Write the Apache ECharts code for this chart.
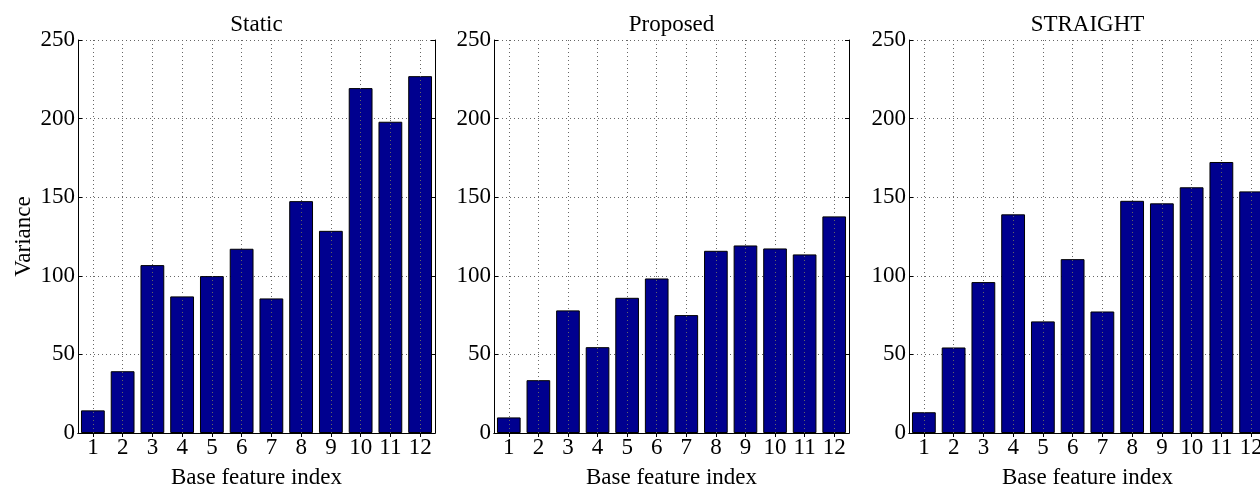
<!DOCTYPE html>
<html>
<head>
<meta charset="utf-8">
<script src="https://cdn.jsdelivr.net/npm/echarts@6/dist/echarts.min.js"></script>
<style>
  html, body { margin: 0; padding: 0; background: #fff; }
  #chart { width: 1260px; height: 486px; }
</style>
</head>
<body>
<div id="chart"></div>
<script>
// Feature indices along the x axis
const categories = ['1', '2', '3', '4', '5', '6', '7', '8', '9', '10', '11', '12'];

// Variance per base feature for each method
const staticValues   = [14.4, 39.3, 106.8, 86.9, 99.8, 117.2, 85.6, 147.5, 128.6, 219.4, 198.0, 227.0];
const proposedValues = [9.9, 33.6, 78.0, 54.6, 86.0, 98.3, 75.0, 115.9, 119.3, 117.4, 113.6, 137.8];
const straightValues = [13.2, 54.4, 96.0, 139.1, 71.0, 110.6, 77.3, 147.7, 146.1, 156.3, 172.4, 153.7];

const panelTitles = ['Static', 'Proposed', 'STRAIGHT'];
const panelValues = [staticValues, proposedValues, straightValues];

// Value axis ticks
const yMin = 0, yMax = 250, yStep = 50;

const FONT = 'Liberation Serif';
const FS = 23;
const panels = [
  { left: 78,  width: 357 },
  { left: 494, width: 355 },
  { left: 909, width: 357 }
];
const TOP = 40, HEIGHT = 393;

const dotted = { color: '#666', width: 1, type: [1, 3] };

const grid = [], xAxis = [], yAxis = [], series = [], title = [];

panels.forEach((p, i) => {
  grid.push({
    left: p.left, top: TOP, width: p.width, height: HEIGHT,
    containLabel: false, outerBoundsMode: 'none'
  });

  title.push({
    text: panelTitles[i],
    left: p.left + p.width / 2,
    top: 13,
    textAlign: 'center',
    padding: 0,
    textStyle: { fontFamily: FONT, fontSize: FS, fontWeight: 'normal', color: '#000' }
  });

  // bottom category axis
  xAxis.push({
    type: 'category', gridIndex: i, data: categories, position: 'bottom',
    boundaryGap: true,
    axisLine: { lineStyle: { color: '#000', width: 1 } },
    axisTick: { show: true, inside: true, length: 4, alignWithLabel: true, lineStyle: { color: '#000' } },
    axisLabel: { fontFamily: FONT, fontSize: FS, color: '#000', margin: 3, interval: 0 },
    splitLine: { show: false },
    name: 'Base feature index', nameLocation: 'middle', nameGap: 33,
    nameTextStyle: { fontFamily: FONT, fontSize: FS, color: '#000' }
  });
  // top frame axis
  xAxis.push({
    type: 'category', gridIndex: i, data: categories, position: 'top',
    boundaryGap: true,
    axisLine: { lineStyle: { color: '#000', width: 1 } },
    axisTick: { show: true, inside: true, length: 4, alignWithLabel: true, lineStyle: { color: '#000' } },
    axisLabel: { show: false },
    splitLine: { show: false }
  });

  // left value axis
  const yLeft = {
    type: 'value', gridIndex: i, min: yMin, max: yMax, interval: yStep, position: 'left',
    axisLine: { show: true, lineStyle: { color: '#000', width: 1 } },
    axisTick: { show: true, inside: true, length: 4, lineStyle: { color: '#000' } },
    axisLabel: { fontFamily: FONT, fontSize: FS, color: '#000', margin: 3 },
    splitLine: { show: true, lineStyle: dotted }
  };
  if (i === 0) {
    yLeft.name = 'Variance';
    yLeft.nameLocation = 'middle';
    yLeft.nameGap = 43;
    yLeft.nameTextStyle = { fontFamily: FONT, fontSize: FS, color: '#000' };
  }
  yAxis.push(yLeft);
  // right frame axis
  yAxis.push({
    type: 'value', gridIndex: i, min: yMin, max: yMax, interval: yStep, position: 'right',
    axisLine: { show: true, lineStyle: { color: '#000', width: 1 } },
    axisTick: { show: true, inside: true, length: 4, lineStyle: { color: '#000' } },
    axisLabel: { show: false },
    splitLine: { show: false }
  });

  // vertical dotted grid lines through each category centre, behind the bars
  series.push({
    type: 'line',
    xAxisIndex: i * 2,
    yAxisIndex: i * 2,
    data: [],
    z: 1,
    silent: true,
    markLine: {
      silent: true,
      symbol: 'none',
      label: { show: false },
      lineStyle: dotted,
      animation: false,
      data: categories.map(c => ({ xAxis: c }))
    }
  });

  series.push({
    type: 'bar',
    xAxisIndex: i * 2,
    yAxisIndex: i * 2,
    data: panelValues[i],
    barWidth: '80%',
    z: 3,
    itemStyle: { color: '#00008F', borderColor: '#000', borderWidth: 1 },
    silent: true,
    animation: false
  });
});

const chart = echarts.init(document.getElementById('chart'), null, { renderer: 'canvas' });
chart.setOption({
  animation: false,
  backgroundColor: '#fff',
  title, grid, xAxis, yAxis, series
});
</script>
</body>
</html>
